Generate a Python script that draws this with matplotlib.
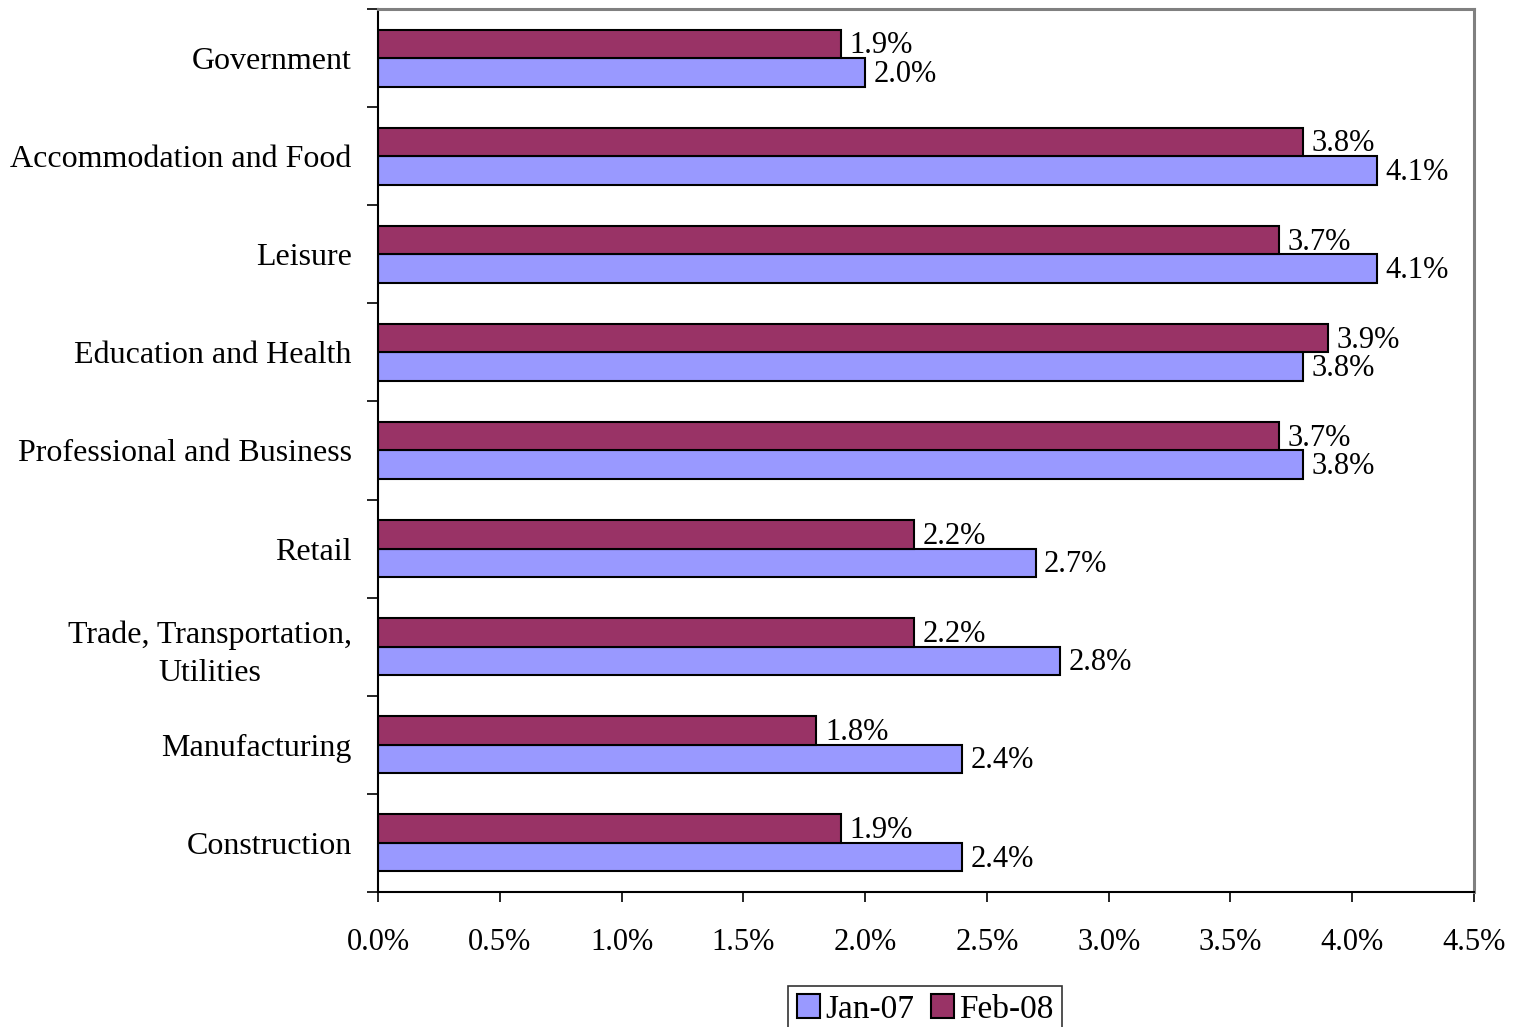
import matplotlib.pyplot as plt
import numpy as np
from matplotlib.ticker import FixedLocator, PercentFormatter

plt.rcParams['font.family'] = ['Liberation Serif', 'DejaVu Serif']

# data, bottom to top as drawn
sectors = ['Construction', 'Manufacturing', 'Trade, Transportation,\nUtilities',
           'Retail', 'Professional and Business', 'Education and Health',
           'Leisure', 'Accommodation and Food', 'Government']
jan07 = [2.4, 2.4, 2.8, 2.7, 3.8, 3.8, 4.1, 4.1, 2.0]
feb08 = [1.9, 1.8, 2.2, 2.2, 3.7, 3.9, 3.7, 3.8, 1.9]

fig = plt.figure(figsize=(15.15, 10.27), dpi=100)
ax = fig.add_axes([0.2495, 0.1315, 0.7234, 0.8597])

y = np.arange(len(sectors))
h = 0.29
b1 = ax.barh(y - h / 2, jan07, height=h, color='#9999FF', edgecolor='black',
             linewidth=1.5, label='Jan-07')
b2 = ax.barh(y + h / 2, feb08, height=h, color='#993366', edgecolor='black',
             linewidth=1.5, label='Feb-08')

for bars, vals in ((b1, jan07), (b2, feb08)):
    for r, v in zip(bars, vals):
        ax.text(v + 0.035, r.get_y() + r.get_height() / 2 - 0.02, '%.1f%%' % v,
                va='center', ha='left', fontsize=22)

ax.set_xlim(0, 4.5)
ax.set_ylim(-0.5, len(sectors) - 0.5)
ax.set_xticks(np.arange(0, 4.51, 0.5))
ax.xaxis.set_major_formatter(PercentFormatter(decimals=1))
ax.set_yticks(y)
ax.set_yticklabels(sectors, fontsize=23, linespacing=1.4, multialignment='center')
ax.yaxis.set_minor_locator(FixedLocator(np.arange(-0.5, len(sectors), 1.0)))
ax.tick_params(axis='y', which='major', length=0, pad=19)
ax.tick_params(axis='y', which='minor', length=8, width=1.2)
ax.tick_params(axis='x', which='major', length=7, width=1.2, pad=19, labelsize=22)

for s in ('top', 'right'):
    ax.spines[s].set_color('#808080')
    ax.spines[s].set_linewidth(2.2)
for s in ('left', 'bottom'):
    ax.spines[s].set_color('black')
    ax.spines[s].set_linewidth(1.5)

leg = fig.legend(handles=[b1, b2], loc='upper center', bbox_to_anchor=(0.6106, 0.040),
                 ncol=2, fontsize=24, frameon=True, fancybox=False, edgecolor='black',
                 handlelength=0.7, handleheight=0.7, handletextpad=0.15,
                 columnspacing=0.5, borderpad=0.25, borderaxespad=0)
leg.get_frame().set_linewidth(1.2)

fig.savefig('out.png', dpi=100)
